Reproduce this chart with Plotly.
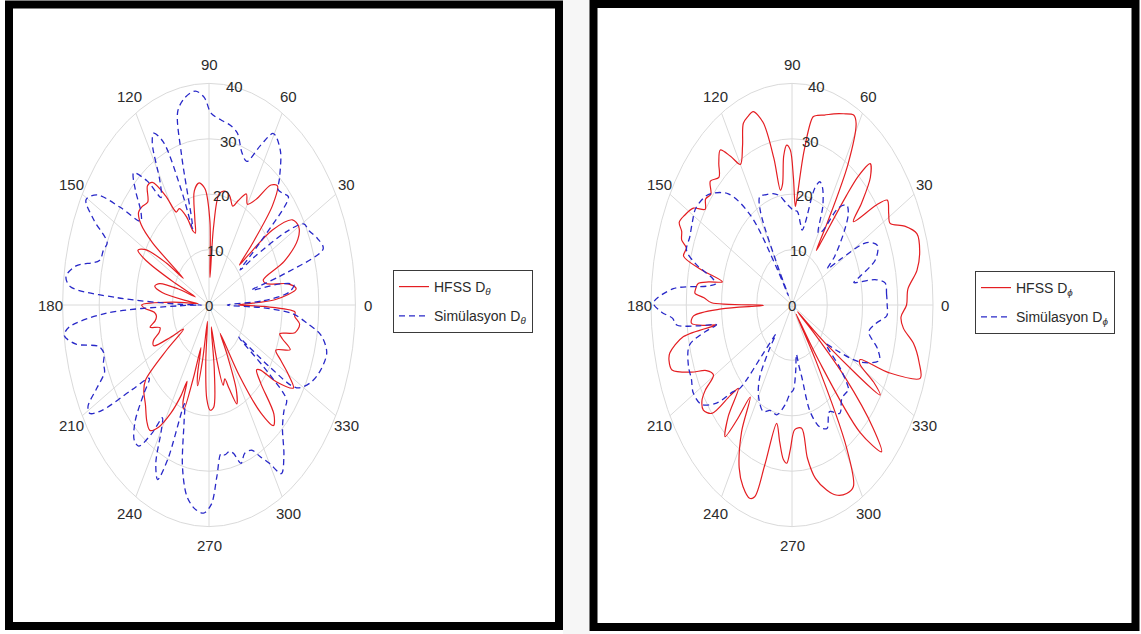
import numpy as np
import plotly.graph_objects as go

# ---------------- data (angle in degrees, directivity value) ----------------
left_hfss_deg = [0, 3, 7, 10, 14, 17, 21, 26, 30, 34, 38, 40, 41, 43, 46, 49, 52, 56, 60, 63, 67, 70, 74, 78,
                 82, 85, 87, 89, 93, 97, 101, 104, 106, 108, 111, 115, 118, 121, 125, 128, 132, 136, 139, 142,
                 144, 145.5, 147, 150, 153, 155, 157, 158.5, 161, 164, 167, 170, 173, 175, 177, 180, 182, 185,
                 188, 191, 194, 197, 200, 203, 206, 209, 212, 215, 218, 221, 226, 231, 234.5, 238, 242, 245,
                 246.5, 248, 250, 252, 254, 256, 258, 260, 262, 265, 268, 271, 274, 277, 279, 282, 285, 288,
                 290, 293, 296, 299, 301, 303, 306, 309, 312, 315, 318, 320, 323, 327, 330, 333, 336, 340, 343,
                 345, 348, 352, 355, 357, 359, 360]
left_hfss_val = [8, 18, 24, 22, 16, 15.5, 22, 27, 28.3, 27.5, 22, 14, 11, 16, 25, 28.5, 27.5, 23, 21, 22.5, 20.5,
                 19, 20.5, 21, 20.3, 14, 5, 15, 21, 22.2, 21, 16, 13.5, 14, 17, 19.2, 19, 23, 27, 27.3, 25, 25.5,
                 25.5, 23.5, 19, 8.5, 14, 20, 21.8, 19, 10, 4, 9, 14, 15.2, 13, 6, 3, 10, 18.4, 17.5, 15, 14.5,
                 15, 16.6, 14, 14.5, 16.5, 16.8, 12, 8.2, 14, 22, 23.6, 25, 27, 27.8, 26, 22, 18, 15, 19, 20, 14,
                 8, 13, 14.9, 10, 3, 10, 17, 19, 18.5, 12, 4, 10, 15, 14, 16, 19.4, 17, 10, 6, 15, 24, 28, 26.5,
                 20, 17.5, 18.2, 23, 27.5, 25, 22, 20, 23.6, 21, 20, 24, 25, 23.5, 23.5, 15, 8]

left_sim_deg = [0, 3, 6, 9, 11, 13, 15, 18, 22, 26, 29.5, 32, 35, 36.6, 39, 42, 45, 47.7, 50, 55, 60.4, 64, 68.3,
                72, 76, 80, 84, 89, 92, 95.5, 100, 103.7, 105.5, 107, 108, 110, 113, 116, 118, 121, 124, 127,
                130.8, 134, 138, 141, 144, 147, 150.5, 154, 158, 161, 165, 169, 172.5, 175, 177, 179, 180, 181,
                183, 186, 188, 191, 194, 197, 200, 203, 206, 209, 211, 213, 216, 219, 222, 226, 230, 233, 236,
                238, 240, 243, 246, 248, 249.5, 252, 256, 260, 264, 267.7, 271, 274, 277, 279, 282, 284, 287,
                290, 294, 297, 300, 303, 307, 312, 317, 321, 323, 324.5, 326, 328, 333, 338, 345, 350, 353, 356,
                358, 360]
left_sim_val = [5, 15, 22, 23.5, 20, 12, 20, 32.8, 32, 30.5, 29.7, 25, 15, 10.6, 18, 29.2, 28.5, 28.1, 30, 34,
                35.6, 32, 27.9, 29, 32, 33, 33.5, 34.6, 37.5, 38.8, 38, 36, 28, 16, 14.5, 22, 32, 34.5, 33, 26,
                23.4, 28, 31.5, 29, 25, 24, 30, 36.5, 38.6, 35, 30, 30.5, 31, 37, 39.4, 38, 25, 8, 2, 8, 28,
                38.5, 39.9, 37, 31, 30, 30.7, 31, 34, 37.8, 38, 35, 26, 21, 24, 29, 31.8, 31.9, 28, 24, 26, 32,
                34.5, 30, 19, 22, 30, 35, 37, 37.6, 36, 31, 27, 27.4, 27, 27.6, 29.9, 28.5, 28.7, 30.7, 33, 36.3,
                34, 30, 28, 27.3, 20, 10, 20, 28.2, 31, 32.5, 33.3, 31, 27, 23, 15, 5]

right_hfss_deg = [0, 5, 10, 15, 20, 24, 27.9, 31, 35, 37, 40.8, 43, 46, 49, 51, 52, 54, 55, 56, 58, 61, 63, 67,
                  71, 75, 78, 80, 83, 86, 87, 89, 91, 93, 95, 97, 99, 101, 104, 107.5, 110, 112.8, 116, 120, 123,
                  126, 129, 132, 136, 139, 142, 145, 148, 152, 155, 157, 159.5, 161, 164, 166, 168, 170, 171.7,
                  174, 175.6, 177, 179, 180.5, 182, 184, 186.6, 188.5, 189.5, 190.5, 194, 196, 199, 203, 206,
                  209.5, 212, 214, 217, 220.7, 223, 224.7, 228, 231.4, 233, 234.5, 238, 243, 247, 251, 253, 255,
                  258.5, 262, 265, 267, 269, 272, 277, 279, 282, 286.4, 290, 294.5, 298, 301, 304, 305.5, 307,
                  310, 313.8, 316, 319, 321, 322.5, 324, 327, 329, 331, 333, 336, 340, 344, 348.7, 352.4, 356, 360]
right_hfss_val = [32.5, 33, 36, 37.5, 37.7, 35, 31.5, 32, 33, 30, 23, 27, 32, 33.8, 30, 25, 14, 12, 18, 30, 37.5,
                  38.5, 37.5, 36.5, 35.5, 35, 34.5, 28, 19, 17.8, 23, 28, 28.9, 27, 22, 21, 27, 34, 36.6, 36.3,
                  35.6, 32, 29.3, 32, 34.6, 33, 31, 32.2, 30.5, 31.1, 30.1, 33, 34.5, 35.3, 34, 33.4, 31.7, 32, 27,
                  20.2, 24, 26.9, 27.5, 27.6, 25, 22.8, 8.1, 20, 28, 28.7, 25, 21.7, 31.3, 35.7, 36.3, 36, 31, 27,
                  25.6, 29, 30.8, 31.5, 30, 24, 21.4, 27, 30.4, 26, 20.4, 27, 33, 35.6, 36.9, 36.2, 30, 21.8, 25,
                  28, 28.6, 26, 22.5, 22.4, 28, 32, 34.8, 36.5, 37.4, 37.1, 30, 12, 2, 12, 30, 36.7, 32, 20, 8, 2,
                  12, 29.8, 27, 22, 21.7, 30, 38.7, 37.5, 35.1, 31.9, 31, 32.5]

right_sim_deg = [0, 4, 8.6, 11, 13, 15, 19, 24, 28, 31, 33, 36, 42, 46, 49.3, 53, 57, 60, 64, 68, 70.5, 73, 76,
                 78, 81, 85, 88, 91, 95, 100, 105, 110, 115, 118, 120, 121.5, 123, 126, 132, 140, 147.3, 152, 157,
                 161.8, 165, 168, 170, 172, 175, 179.5, 182, 184, 186.3, 188, 189.5, 191, 194, 200.7, 205, 209.6,
                 215, 219.6, 223, 225.5, 227, 229, 231, 235, 240, 247, 252, 257.7, 264, 268, 271.5, 275, 278,
                 280, 282, 285, 289.7, 294, 299, 304.7, 310, 314.7, 316.3, 320, 324, 327, 332, 338, 342, 347.5,
                 352, 356, 360]
right_sim_val = [27, 26.9, 26.7, 24, 18, 20, 25, 26.5, 24, 16, 12, 15, 20, 23, 23.8, 22, 16, 15, 20, 23, 23.6, 22,
                 15, 13.8, 15, 17, 17, 17.5, 18.4, 20, 20.8, 21.2, 21.6, 19, 8, 2, 8, 20, 27, 31, 32.4, 32, 31.5,
                 31.5, 28, 23, 22, 24.4, 33.8, 39.3, 37, 34, 32.9, 27, 21.7, 25, 30, 31.4, 31.5, 32.2, 31.3, 27.8,
                 23, 21.1, 12, 7, 10, 16, 19, 20.9, 20, 20.3, 18, 16, 15.3, 12, 9, 11, 13.2, 20, 23.4, 24.4, 22,
                 23.8, 22, 22.1, 22.2, 18, 12, 15, 22, 26.7, 25.5, 22.3, 24, 27, 27]

angle_ticks = [0, 30, 60, 90, 120, 150, 180, 210, 240, 270, 300, 330]
r_ticks = [0, 10, 20, 30, 40]

# ---------------- styling ----------------
RED = "rgb(228,30,34)"
BLUE = "rgb(40,40,200)"
GRID = "#dadada"
TXT = "#2b2b2b"
FONT = "Liberation Sans, Arial, sans-serif"
W, H = 1141, 634


def xy(deg, val):
    t = np.deg2rad(np.asarray(deg, dtype=float))
    v = np.asarray(val, dtype=float)
    return v * np.cos(t), v * np.sin(t)


fig = go.Figure()

panels = [
    dict(xa="x", ya="y", cx=209.0, sx=3.66, dom=[0.0, 0.5],
         hfss=(left_hfss_deg, left_hfss_val), sim=(left_sim_deg, left_sim_val),
         sub="θ", legend="legend"),
    dict(xa="x2", ya="y2", cx=792.0, sx=3.525, dom=[0.5, 1.0],
         hfss=(right_hfss_deg, right_hfss_val), sim=(right_sim_deg, right_sim_val),
         sub="ϕ", legend="legend2"),
]
CY, SY = 305.0, 5.54

shapes = []
annotations = []
for i, p in enumerate(panels):
    sfx = "" if i == 0 else "2"
    x_lo_px, x_hi_px = p["dom"][0] * W, p["dom"][1] * W
    xr = [(x_lo_px - p["cx"]) / p["sx"], (x_hi_px - p["cx"]) / p["sx"]]
    yr = [-(H - CY) / SY, CY / SY]
    fig.update_layout(**{
        "xaxis" + sfx: dict(domain=p["dom"], range=xr, visible=False, fixedrange=True),
        "yaxis" + sfx: dict(domain=[0, 1], range=yr, visible=False, fixedrange=True,
                            anchor="x" + sfx),
    })
    for r in r_ticks[1:]:
        shapes.append(dict(type="circle", xref=p["xa"], yref=p["ya"], x0=-r, x1=r, y0=-r, y1=r,
                           line=dict(color=GRID, width=1), layer="below"))
    for a in angle_ticks:
        ex, ey = xy([a], [r_ticks[-1]])
        shapes.append(dict(type="line", xref=p["xa"], yref=p["ya"], x0=0, y0=0, x1=float(ex[0]),
                           y1=float(ey[0]), line=dict(color=GRID, width=1), layer="below"))
    for a in angle_ticks:
        lx, ly = xy([a], [43.4])
        annotations.append(dict(x=float(lx[0]), y=float(ly[0]), xref=p["xa"], yref=p["ya"], text=str(a),
                                showarrow=False, font=dict(family=FONT, size=15, color=TXT),
                                xanchor="center", yanchor="middle"))
    for r in r_ticks:
        lx, ly = xy([80], [r])
        annotations.append(dict(x=float(lx[0]), y=float(ly[0]), xref=p["xa"], yref=p["ya"], text=str(r),
                                showarrow=False, font=dict(family=FONT, size=15, color=TXT),
                                xanchor="center", yanchor="middle"))
    hx, hy = xy(*p["hfss"])
    sx_, sy_ = xy(*p["sim"])
    fig.add_trace(go.Scatter(x=hx, y=hy, mode="lines", xaxis=p["xa"], yaxis=p["ya"],
                             line=dict(color=RED, width=1.2, shape="spline", smoothing=0.9),
                             name="HFSS D<sub><i>%s</i></sub>" % p["sub"], legend=p["legend"],
                             legendgroup="h%d" % i, hoverinfo="skip"))
    fig.add_trace(go.Scatter(x=sx_, y=sy_, mode="lines", xaxis=p["xa"], yaxis=p["ya"],
                             line=dict(color=BLUE, width=1.3, dash="6px,4px", shape="spline", smoothing=0.9),
                             name="Simülasyon D<sub><i>%s</i></sub>" % p["sub"], legend=p["legend"],
                             legendgroup="s%d" % i, hoverinfo="skip"))

# grey gap between panels, then thick black frames
shapes.append(dict(type="rect", xref="paper", yref="paper", x0=563 / W, x1=590 / W, y0=0, y1=1,
                   fillcolor="rgba(0,0,0,0.035)", line=dict(width=0), layer="below"))
for (x0, x1, y0, y1) in [(9, 559, 4.5, 626), (593.5, 1135.5, 4, 627)]:
    shapes.append(dict(type="rect", xref="paper", yref="paper", x0=x0 / W, x1=x1 / W,
                       y0=1 - y1 / H, y1=1 - y0 / H, line=dict(color="black", width=8),
                       fillcolor="rgba(0,0,0,0)"))

legend_style = dict(font=dict(family=FONT, size=14, color=TXT), bgcolor="white",
                    bordercolor="#3a3a3a", borderwidth=1, xanchor="left", yanchor="top",
                    tracegroupgap=8, itemwidth=30)
fig.update_layout(
    width=W, height=H, margin=dict(l=0, r=0, t=0, b=0),
    paper_bgcolor="white", plot_bgcolor="white",
    shapes=shapes, annotations=annotations,
    legend=dict(x=393 / W, y=1 - 270 / H, **legend_style),
    legend2=dict(x=975 / W, y=1 - 271 / H, **legend_style),
)

fig.write_html("out.html", config={"displayModeBar": False},
               post_script="document.body.style.margin='0px';document.body.style.overflow='hidden';")
